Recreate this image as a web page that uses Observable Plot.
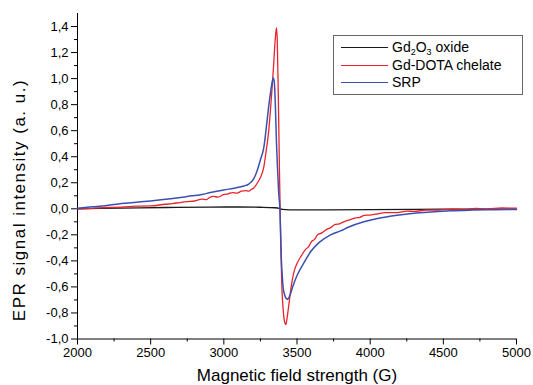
<!DOCTYPE html>
<html><head><meta charset="utf-8">
<script src="https://cdn.jsdelivr.net/npm/d3@7"></script>
<script src="https://cdn.jsdelivr.net/npm/@observablehq/plot@0.6"></script>
<style>
body{margin:0;background:#fff;}
#wrap{position:relative;width:533px;height:385px;font-family:"Liberation Sans",Arial,sans-serif;}
#legend{position:absolute;left:333px;top:35px;width:190px;height:60px;border:1px solid #666;background:#fff;font-size:14px;box-sizing:border-box;}
.row{position:absolute;left:0;height:17px;line-height:17px;white-space:nowrap;}
.sw{position:absolute;left:7px;top:8px;width:47px;height:0;border-top:1.5px solid;}
.lab{position:absolute;left:58px;top:0;}
sub{font-size:9px;vertical-align:-3px;line-height:0;}
#ytitle{position:absolute;left:20px;top:200px;transform:translate(-50%,-50%) rotate(-90deg);white-space:nowrap;font-size:17px;letter-spacing:1.5px;color:#000;}
</style></head>
<body><div id="wrap"></div>
<script>
const xTicks = [2000, 2500, 3000, 3500, 4000, 4500, 5000];
const xMinor = [2250, 2750, 3250, 3750, 4250, 4750];
const yTicks = [-1.0, -0.8, -0.6, -0.4, -0.2, 0.0, 0.2, 0.4, 0.6, 0.8, 1.0, 1.2, 1.4];
const yMinor = [-0.9, -0.7, -0.5, -0.3, -0.1, 0.1, 0.3, 0.5, 0.7, 0.9, 1.1, 1.3];
const xTitle = "Magnetic field strength (G)";
const yTitle = "EPR signal intensity (a. u.)";
const seriesNames = ["Gd2O3 oxide", "Gd-DOTA chelate", "SRP"];
const seriesColors = ["#1a1a1a", "#e8232b", "#3a50b0"];

const oxideField = [2000, 2300, 2600, 2900, 3100, 3250, 3350, 3380, 3400, 3500, 3700, 4000, 4500, 5000];
const oxideValue = [0.0, 0.005, 0.01, 0.013, 0.014, 0.012, 0.008, 0.003, -0.004, -0.008, -0.008, -0.006, -0.003, -0.002];

const dotaField = [2000, 2100, 2200, 2300, 2400, 2500, 2600, 2650, 2700, 2750, 2800, 2850, 2880, 2900, 2930, 2960, 3000, 3030, 3060, 3090, 3120, 3150, 3170, 3190, 3205, 3230, 3250, 3273, 3290, 3307, 3320, 3330, 3340, 3348, 3355, 3360, 3365, 3371, 3376, 3380, 3384, 3387, 3391, 3396, 3402, 3410, 3418, 3424, 3432, 3444, 3460, 3478, 3500, 3530, 3560, 3580, 3600, 3620, 3640, 3670, 3700, 3730, 3760, 3790, 3820, 3860, 3900, 3930, 3960, 4000, 4050, 4100, 4185, 4250, 4300, 4380, 4450, 4550, 4640, 4720, 4800, 4900, 5000];
const dotaValue = [0.0, 0.003, 0.01, 0.012, 0.02, 0.022, 0.035, 0.04, 0.048, 0.055, 0.06, 0.075, 0.07, 0.085, 0.095, 0.09, 0.11, 0.115, 0.125, 0.12, 0.135, 0.14, 0.135, 0.15, 0.16, 0.2, 0.24, 0.32, 0.45, 0.6, 0.78, 0.93, 1.1, 1.25, 1.35, 1.39, 1.3, 0.95, 0.6, 0.3, 0.05, -0.12, -0.35, -0.58, -0.72, -0.83, -0.88, -0.89, -0.84, -0.74, -0.6, -0.49, -0.42, -0.36, -0.31, -0.29, -0.25, -0.235, -0.2, -0.185, -0.16, -0.145, -0.12, -0.115, -0.1, -0.085, -0.07, -0.065, -0.05, -0.048, -0.04, -0.03, -0.03, -0.018, -0.02, -0.01, -0.01, -0.002, -0.005, 0.003, 0.0, 0.006, 0.005];

const srpField = [2000, 2100, 2200, 2300, 2400, 2500, 2636, 2750, 2850, 2909, 3000, 3080, 3137, 3170, 3204, 3230, 3251, 3273, 3290, 3307, 3320, 3330, 3338, 3345, 3352, 3360, 3366, 3375, 3383, 3392, 3400, 3406, 3415, 3428, 3437, 3450, 3470, 3501, 3550, 3593, 3650, 3729, 3797, 3854, 3957, 4050, 4185, 4300, 4413, 4550, 4700, 4850, 5000];
const srpValue = [0.005, 0.015, 0.025, 0.04, 0.05, 0.06, 0.077, 0.095, 0.11, 0.125, 0.145, 0.16, 0.175, 0.19, 0.23, 0.3, 0.38, 0.47, 0.62, 0.79, 0.9, 0.97, 1.005, 0.97, 0.8, 0.5, 0.33, 0.12, 0.0, -0.36, -0.53, -0.61, -0.66, -0.69, -0.695, -0.67, -0.6, -0.51, -0.41, -0.33, -0.26, -0.2, -0.17, -0.14, -0.10, -0.075, -0.05, -0.035, -0.025, -0.015, -0.01, -0.007, -0.005];

const rows = (f, v) => f.map((x, i) => ({x, y: v[i]}));
const oxide = rows(oxideField, oxideValue);
const dota = rows(dotaField, dotaValue);
const srp = rows(srpField, srpValue);

const fmtY = d => d.toFixed(1).replace(".", ",");
const font = '"Liberation Sans", Arial, sans-serif';

const chart = Plot.plot({
  width: 533, height: 385,
  marginLeft: 77, marginRight: 17, marginTop: 13, marginBottom: 46.5,
  x: {domain: [2000, 5000]},
  y: {domain: [-1, 1.5]},
  style: {fontFamily: font, fontSize: "13px", color: "#000", background: "#fff"},
  marks: [
    Plot.axisX({ticks: xMinor, tickSize: 3, tickFormat: () => "", label: null}),
    Plot.axisX({ticks: xTicks, tickSize: 6, tickPadding: 3, tickFormat: d => String(d), label: null}),
    Plot.axisY({ticks: yMinor, tickSize: 3, tickFormat: () => "", label: null}),
    Plot.axisY({ticks: yTicks, tickSize: 6, tickPadding: 3, tickFormat: fmtY, label: null}),
    Plot.ruleX([2000], {stroke: "#000"}),
    Plot.ruleY([-1], {stroke: "#000"}),
    Plot.line(oxide, {x: "x", y: "y", stroke: seriesColors[0], strokeWidth: 1.3, curve: "monotone-x"}),
    Plot.line(dota, {x: "x", y: "y", stroke: seriesColors[1], strokeWidth: 1.3, curve: "monotone-x"}),
    Plot.line(srp, {x: "x", y: "y", stroke: seriesColors[2], strokeWidth: 1.5, curve: "monotone-x"}),
    Plot.text([xTitle], {text: d => d, frameAnchor: "bottom", textAnchor: "middle", lineAnchor: "middle", dy: 37, fontSize: 17})
  ]
});
const wrap = document.getElementById("wrap");
wrap.appendChild(chart);

const yt = document.createElement("div");
yt.id = "ytitle";
yt.textContent = yTitle;
wrap.appendChild(yt);

const legend = document.createElement("div");
legend.id = "legend";
const labelsHtml = ["Gd<sub>2</sub>O<sub>3</sub> oxide", "Gd-DOTA chelate", "SRP"];
seriesNames.forEach((n, i) => {
  const r = document.createElement("div");
  r.className = "row";
  r.style.top = (3 + i * 17.5) + "px";
  r.innerHTML = `<span class="sw" style="border-color:${seriesColors[i]}"></span><span class="lab">${labelsHtml[i]}</span>`;
  legend.appendChild(r);
});
wrap.appendChild(legend);
</script>
</body></html>
